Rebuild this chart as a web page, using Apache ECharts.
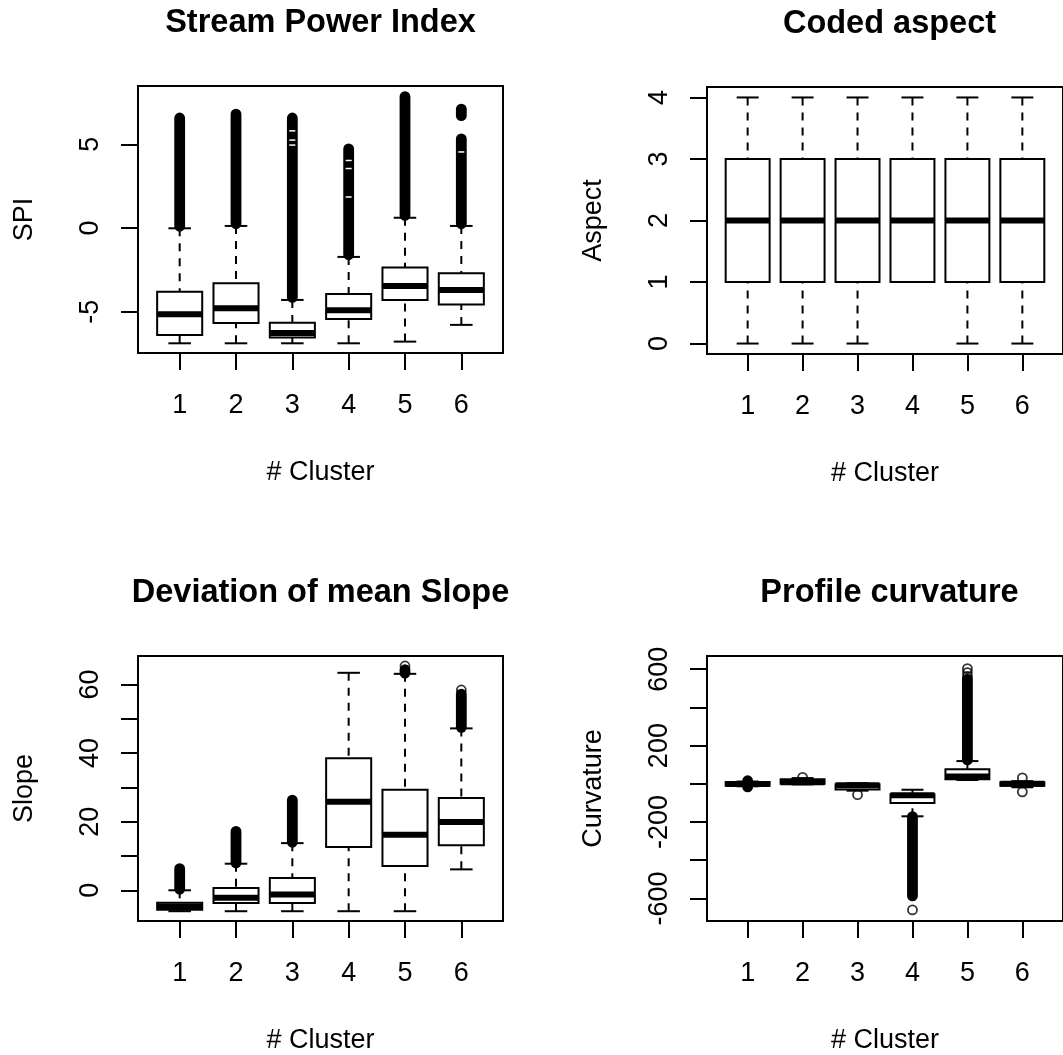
<!DOCTYPE html>
<html>
<head>
<meta charset="utf-8">
<title>Cluster boxplots</title>
<script src="https://cdn.jsdelivr.net/npm/echarts@6/dist/echarts.min.js"></script>
<style>
  html, body { margin: 0; padding: 0; background: #fff; }
  #chart { width: 1063px; height: 1055px; }
</style>
</head>
<body>
<div id="chart"></div>
<script>
// x axis: cluster numbers
const clusters = [1, 2, 3, 4, 5, 6];

// box stats per cluster: [cluster, lower whisker, Q1, median, Q3, upper whisker]
const spiBoxes = [
  [1, -6.89, -6.40, -5.15, -3.81, -0.02],
  [2, -6.89, -5.68, -4.80, -3.31, 0.12],
  [3, -6.89, -6.55, -6.28, -5.67, -4.30],
  [4, -6.89, -5.44, -4.92, -3.95, -1.73],
  [5, -6.79, -4.30, -3.47, -2.36, 0.61],
  [6, -5.79, -4.58, -3.71, -2.70, 0.12]
];
// dense outlier stretches: [cluster, from, to]
const spiRuns = [
  [1, 0.1, 6.57], [2, 0.25, 6.80], [3, -4.15, 6.57],
  [4, -1.6, 4.72], [5, 0.75, 7.85], [6, 0.25, 5.32], [6, 6.71, 7.10]
];
const spiPoints = [];
// thin breaks inside the outlier stretches: [cluster, value]
const spiGaps = [[3, 5.8], [3, 5.25], [3, 4.95], [4, 4.03], [4, 3.55], [4, 1.85], [6, 4.54]];
const spiTicks = [-5, 0, 5];
const spiLabels = [-5, 0, 5];

const aspectBoxes = [
  [1, 0, 1, 2, 3, 4],
  [2, 0, 1, 2, 3, 4],
  [3, 0, 1, 2, 3, 4],
  [4, 1, 1, 2, 3, 4],
  [5, 0, 1, 2, 3, 4],
  [6, 0, 1, 2, 3, 4]
];
const aspectRuns = [];
const aspectPoints = [];
const aspectGaps = [];
const aspectTicks = [0, 1, 2, 3, 4];
const aspectLabels = [0, 1, 2, 3, 4];

const slopeBoxes = [
  [1, -6.1, -5.7, -4.7, -3.6, 0.0],
  [2, -6.1, -3.7, -2.2, 0.7, 7.75],
  [3, -6.1, -3.7, -1.25, 3.6, 13.75],
  [4, -6.1, 12.6, 25.8, 38.5, 63.4],
  [5, -6.1, 7.1, 16.2, 29.3, 63.1],
  [6, 6.1, 13.1, 19.9, 26.9, 47.2]
];
const slopeRuns = [[1, 0.3, 6.3], [2, 8.0, 17.2], [3, 14.0, 26.3], [5, 63.3, 64.3], [6, 47.5, 57.2]];
const slopePoints = [[5, 65.4], [6, 58.4]];
const slopeGaps = [];
const slopeTicks = [0, 10, 20, 30, 40, 50, 60];
const slopeLabels = [0, 20, 40, 60];

const curvBoxes = [
  [1, -13, -10, -1, 9, 12],
  [2, -3, 0, 8, 24, 30],
  [3, -36, -30, -8, -2, 3],
  [4, -170, -100, -60, -54, -31],
  [5, 20, 24, 38, 76, 119],
  [6, -18, -10, 0, 8, 14]
];
const curvRuns = [[1, -16, -14], [1, 13, 16], [4, -587, -172], [5, 125, 548]];
const curvPoints = [[2, 34], [3, -57], [4, -660], [5, 562], [5, 582], [5, 603], [6, 31], [6, -42]];
const curvGaps = [];
const curvTicks = [-600, -400, -200, 0, 200, 400, 600];
const curvLabels = [-600, -200, 200, 600];

const titles = ['Stream Power Index', 'Coded aspect', 'Deviation of mean Slope', 'Profile curvature'];
const yNames = ['SPI', 'Aspect', 'Slope', 'Curvature'];

const FONT = '"Liberation Sans", Arial, sans-serif';

const panels = [
  { boxes: spiBoxes, runs: spiRuns, points: spiPoints, gaps: spiGaps, ticks: spiTicks, labels: spiLabels,
    min: -7.47, max: 8.48, left: 138, top: 86 },
  { boxes: aspectBoxes, runs: aspectRuns, points: aspectPoints, gaps: aspectGaps, ticks: aspectTicks, labels: aspectLabels,
    min: -0.17, max: 4.17, left: 707, top: 87 },
  { boxes: slopeBoxes, runs: slopeRuns, points: slopePoints, gaps: slopeGaps, ticks: slopeTicks, labels: slopeLabels,
    min: -8.95, max: 68.3, left: 138, top: 656 },
  { boxes: curvBoxes, runs: curvRuns, points: curvPoints, gaps: curvGaps, ticks: curvTicks, labels: curvLabels,
    min: -718, max: 669, left: 707, top: 656 }
];
const PW = 365, PH = 267;

// box, whiskers and staples
function renderBox(params, api) {
  const x = api.value(0);
  const cx = api.coord([x, 0])[0];
  const yLo = api.coord([x, api.value(1)])[1];
  const yQ1 = api.coord([x, api.value(2)])[1];
  const yMed = api.coord([x, api.value(3)])[1];
  const yQ3 = api.coord([x, api.value(4)])[1];
  const yHi = api.coord([x, api.value(5)])[1];
  const half = api.size([0.4, 0])[0];
  const st = api.size([0.2, 0])[0];
  const solid = { stroke: '#000', lineWidth: 2, fill: null };
  const dashed = { stroke: '#000', lineWidth: 2, lineDash: [8, 7], fill: null };
  return {
    type: 'group',
    children: [
      { type: 'line', shape: { x1: cx, y1: yHi, x2: cx, y2: yQ3 }, style: dashed },
      { type: 'line', shape: { x1: cx, y1: yLo, x2: cx, y2: yQ1 }, style: dashed },
      { type: 'line', shape: { x1: cx - st, y1: yHi, x2: cx + st, y2: yHi }, style: solid },
      { type: 'line', shape: { x1: cx - st, y1: yLo, x2: cx + st, y2: yLo }, style: solid },
      { type: 'rect', shape: { x: cx - half, y: yQ3, width: 2 * half, height: yQ1 - yQ3 }, style: solid },
      { type: 'line', shape: { x1: cx - half, y1: yMed, x2: cx + half, y2: yMed }, style: { stroke: '#000', lineWidth: 6 } }
    ]
  };
}

// dense outliers: overlapping circles drawn as one black capsule
function renderRun(params, api) {
  const R = 5.4;
  const top = api.coord([api.value(0), api.value(2)]);
  const bot = api.coord([api.value(0), api.value(1)]);
  return {
    type: 'rect',
    shape: { x: top[0] - R, y: top[1] - R, width: 2 * R, height: bot[1] - top[1] + 2 * R, r: R },
    style: { fill: '#000' }
  };
}

function renderGap(params, api) {
  const p = api.coord([api.value(0), api.value(1)]);
  return { type: 'rect', shape: { x: p[0] - 3, y: p[1] - 0.75, width: 6, height: 1.5 }, style: { fill: '#fff' } };
}

const option = {
  animation: false,
  backgroundColor: '#fff',
  textStyle: { fontFamily: FONT },
  graphic: titles.map((t, i) => ({
    type: 'text',
    x: panels[i].left + PW / 2,
    y: panels[i].top - 63,
    style: { text: t, font: 'bold 32.5px ' + FONT, fill: '#000', align: 'center', verticalAlign: 'middle' }
  })),
  grid: panels.map(p => ({
    left: p.left, top: p.top, width: PW, height: PH,
    show: true, borderColor: '#000', borderWidth: 2, backgroundColor: 'transparent'
  })),
  xAxis: panels.map((p, i) => ({
    gridIndex: i, type: 'value', min: 0.26, max: 6.74, position: 'bottom',
    axisLine: { show: false, onZero: false },
    splitLine: { show: false },
    axisTick: { show: true, inside: false, length: 17, lineStyle: { color: '#000', width: 2 }, customValues: clusters },
    axisLabel: { customValues: clusters, margin: 39.5, color: '#000', fontSize: 27, fontFamily: FONT },
    name: '# Cluster', nameLocation: 'middle', nameGap: 106,
    nameTextStyle: { color: '#000', fontSize: 27, fontFamily: FONT }
  })),
  yAxis: panels.map((p, i) => ({
    gridIndex: i, type: 'value', min: p.min, max: p.max, position: 'left',
    axisLine: { show: false, onZero: false },
    splitLine: { show: false },
    axisTick: { show: true, inside: false, length: 17, lineStyle: { color: '#000', width: 2 }, customValues: p.ticks },
    axisLabel: { customValues: p.labels, rotate: 90, margin: 34, color: '#000', fontSize: 27, fontFamily: FONT },
    name: yNames[i], nameLocation: 'middle', nameGap: 100,
    nameTextStyle: { color: '#000', fontSize: 27, fontFamily: FONT }
  })),
  series: panels.flatMap((p, i) => [
    { type: 'custom', xAxisIndex: i, yAxisIndex: i, renderItem: renderBox, data: p.boxes,
      encode: { x: 0, y: [1, 2, 3, 4, 5] } },
    { type: 'custom', xAxisIndex: i, yAxisIndex: i, renderItem: renderRun, data: p.runs,
      encode: { x: 0, y: [1, 2] } },
    { type: 'scatter', xAxisIndex: i, yAxisIndex: i, data: p.points, symbol: 'circle', symbolSize: 9,
      itemStyle: { color: 'rgba(0,0,0,0)', borderColor: '#000', borderWidth: 1.8 } },
    { type: 'custom', xAxisIndex: i, yAxisIndex: i, renderItem: renderGap, data: p.gaps,
      encode: { x: 0, y: 1 } }
  ])
};

const chart = echarts.init(document.getElementById('chart'));
chart.setOption(option);
</script>
</body>
</html>
